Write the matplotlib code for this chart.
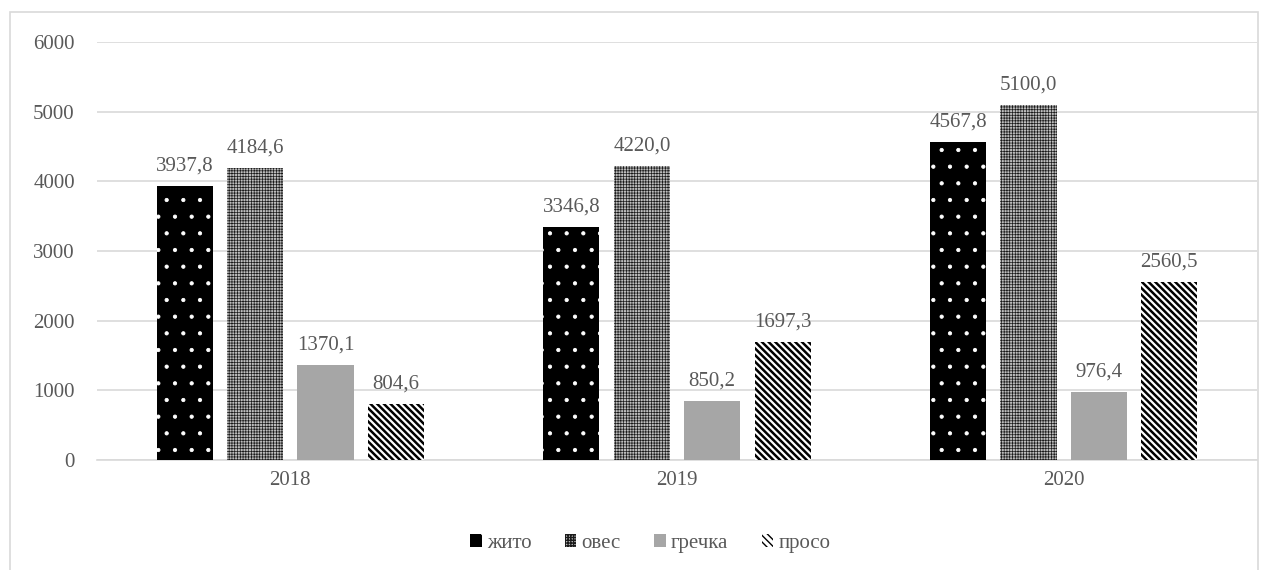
import matplotlib
matplotlib.use("Agg")
import numpy as np
import matplotlib.pyplot as plt
from matplotlib.patches import Rectangle

years = ["2018", "2019", "2020"]
crops = ["жито", "овес", "гречка", "просо"]
zhyto = [3937.8, 3346.8, 4567.8]
oves = [4184.6, 4220.0, 5100.0]
hrechka = [1370.1, 850.2, 976.4]
proso = [804.6, 1697.3, 2560.5]
series = [zhyto, oves, hrechka, proso]

# (facecolor, hatch colour, hatch, hatch linewidth)
styles = [
    ("black", "white", ".", 0.6),
    ("#bdbdbd", "#1a1a1a", "++++++", 0.5),
    ("#a6a6a6", "#a6a6a6", None, 1.0),
    ("white", "black", "\\\\\\\\\\", 1.8),
]

plt.rcParams["font.family"] = ["Liberation Serif", "DejaVu Serif"]
txt = "#595959"
fs = 15

fig = plt.figure(figsize=(12.74, 5.70), dpi=100)
ax = fig.add_axes([97 / 1274, 1 - 460 / 570, 1160 / 1274, 418 / 570])
fig.patches.append(Rectangle((10 / 1274, -0.01), 1248 / 1274, 1 - 12 / 570 + 0.01,
                             transform=fig.transFigure, fill=False,
                             edgecolor="#d9d9d9", linewidth=1.2))

x = np.arange(len(years))
step = 0.182
width = 0.145
for i, (vals, name, (fc, hc, hatch, hlw)) in enumerate(zip(series, crops, styles)):
    pos = x + (i - 1.5) * step
    with plt.rc_context({"hatch.linewidth": hlw}):
        bars = ax.bar(pos, vals, width, label=name, linewidth=0, zorder=3,
                      facecolor=fc, edgecolor=hc, hatch=hatch)
    for b, v in zip(bars, vals):
        ax.text(b.get_x() + b.get_width() / 2, v + 150, f"{v:.1f}".replace(".", ","),
                ha="center", va="bottom", fontsize=fs, color=txt)

ax.set_xlim(-0.5, 2.5)
ax.set_ylim(0, 6000)
ax.set_yticks(range(0, 6001, 1000))
ax.set_xticks(x)
ax.set_xticklabels(years)
ax.yaxis.grid(True, color="#d9d9d9", linewidth=1.2, zorder=0)
ax.set_axisbelow(True)
for s in ["top", "right", "left"]:
    ax.spines[s].set_visible(False)
ax.spines["bottom"].set_color("#d9d9d9")
ax.spines["bottom"].set_linewidth(1.2)
ax.tick_params(axis="both", length=0, labelsize=fs, labelcolor=txt)
ax.tick_params(axis="y", pad=16)
ax.tick_params(axis="x", pad=8)

ax.legend(loc="center", bbox_to_anchor=(0.477, -0.2), ncol=4, frameon=False,
          fontsize=fs, labelcolor=txt, handlelength=0.55, handleheight=0.55,
          handletextpad=0.25, columnspacing=1.6)

fig.savefig("out.png", dpi=100)
